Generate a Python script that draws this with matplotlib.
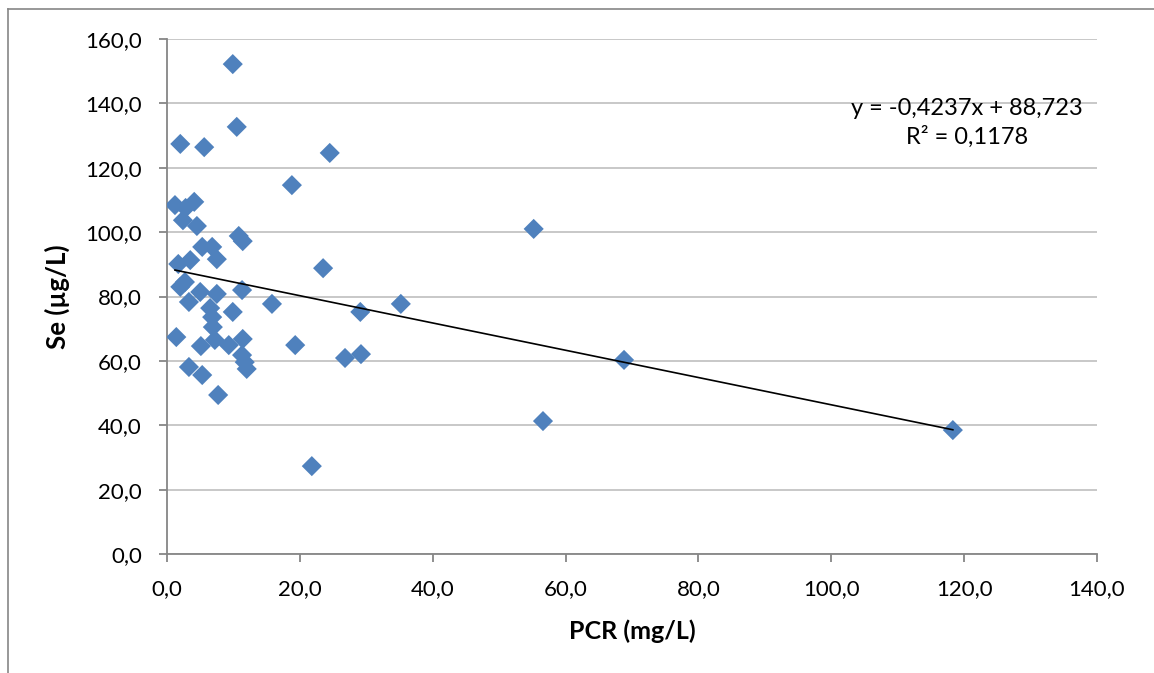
import numpy as np
import matplotlib
matplotlib.use("Agg")
import matplotlib.pyplot as plt
from matplotlib.ticker import FuncFormatter, MultipleLocator
from matplotlib.lines import Line2D

plt.rcParams['font.family'] = ['Lato', 'DejaVu Sans']

# PCR (mg/L) vs Se (ug/L)
pcr = [9.9, 10.5, 2.0, 5.6, 24.5, 18.8, 1.2, 4.1, 2.8, 2.4,
       4.5, 10.8, 11.4, 5.3, 6.8, 7.5, 3.5, 1.7, 23.5, 2.7,
       2.0, 5.0, 7.5, 11.3, 3.3, 15.8, 6.5, 6.8, 9.9, 6.9,
       1.4, 11.4, 7.2, 9.3, 5.1, 19.3, 11.3, 11.7, 12.0, 3.3,
       5.3, 7.7, 26.8, 29.1, 29.2, 21.8, 35.2, 55.2, 56.6, 68.8,
       118.3]
se = [152.2, 132.7, 127.4, 126.4, 124.6, 114.6, 108.4, 109.4, 107.5, 103.7,
      101.9, 98.8, 97.2, 95.4, 95.4, 91.6, 91.3, 90.1, 88.8, 84.5,
      83.0, 81.4, 80.8, 82.0, 78.3, 77.7, 76.4, 73.6, 75.2, 70.5,
      67.4, 66.8, 66.5, 64.9, 64.6, 64.9, 61.8, 59.6, 57.5, 58.1,
      55.6, 49.4, 60.9, 75.2, 62.1, 27.3, 77.7, 101.0, 41.3, 60.3,
      38.5]

slope = -0.4237
intercept = 88.723
eq_text = "y = -0,4237x + 88,723\nR² = 0,1178"

fig = plt.figure(figsize=(11.54, 6.73), dpi=100)
ax = fig.add_axes([167/1154, 1 - 554/673, 930/1154, 515/673])

ax.scatter(pcr, se, marker='D', s=105, color='#4F81BD', edgecolors='none', zorder=3)

xl = np.array([min(pcr), max(pcr)])
ax.plot(xl, slope * xl + intercept, color='black', lw=1.2, zorder=4)

ax.set_xlim(0, 140)
ax.set_ylim(0, 160)
ax.xaxis.set_major_locator(MultipleLocator(20))
ax.yaxis.set_major_locator(MultipleLocator(20))
fmt = FuncFormatter(lambda v, p: f"{v:.1f}".replace('.', ','))
ax.xaxis.set_major_formatter(fmt)
ax.yaxis.set_major_formatter(fmt)

ax.grid(axis='y', color='#BFBFBF', lw=1.2)
ax.set_axisbelow(True)
for s in ['top', 'right']:
    ax.spines[s].set_visible(False)
for s in ['left', 'bottom']:
    ax.spines[s].set_color('#868686')
    ax.spines[s].set_linewidth(1.3)
ax.tick_params(axis='both', colors='#868686', length=6, width=1.3,
               labelsize=16, labelcolor='black', pad=12)

ax.set_xlabel("PCR (mg/L)", fontsize=18, fontweight='bold')
ax.set_ylabel("Se (µg/L)", fontsize=18.5, fontweight='bold')
ax.xaxis.set_label_coords(0.5, -65/515)
ax.yaxis.set_label_coords(-97/930, 0.5)

ax.text(0.86, 0.837, eq_text, transform=ax.transAxes, ha='center', va='center',
        fontsize=17, linespacing=1.42)

# outer chart frame
fig.add_artist(Line2D([8/1154, 8/1154], [0, 1 - 9/673], transform=fig.transFigure,
                      color='#868686', lw=1.2))
fig.add_artist(Line2D([8/1154, 1], [1 - 9/673, 1 - 9/673], transform=fig.transFigure,
                      color='#868686', lw=1.2))

fig.savefig("out.png", dpi=100)
